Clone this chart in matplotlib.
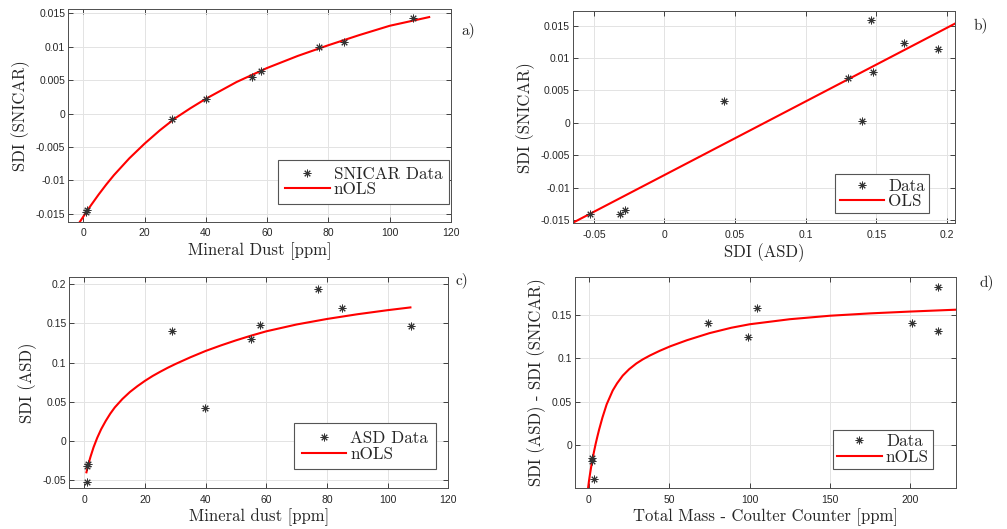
import numpy as np
import matplotlib
matplotlib.use("Agg")
import matplotlib.pyplot as plt

# a) SNICAR SDI vs mineral dust
a_x = [0.9, 1.3, 29, 40, 55, 58, 77, 85, 107.7]
a_y = [-0.0147, -0.0144, -0.0008, 0.0022, 0.0054, 0.0064, 0.0099, 0.0107, 0.01425]
a_fit_x = [-1.6, 0, 1, 2.5, 5, 7.5, 10, 15, 20, 25, 30, 35, 40, 50, 60, 70, 80, 90, 100, 112.9]
a_fit_y = [-0.0165, -0.0154, -0.0147, -0.0137, -0.0121, -0.0106, -0.0092, -0.0067, -0.0045, -0.0025,
           -0.0007, 0.0008, 0.0022, 0.0047, 0.0068, 0.0086, 0.0102, 0.0117, 0.0131, 0.0144]

# b) SNICAR SDI vs ASD SDI
b_x = [-0.0526, -0.0318, -0.0283, 0.0420, 0.1302, 0.1396, 0.1460, 0.1476, 0.1693, 0.1934]
b_y = [-0.0140, -0.0140, -0.0135, 0.0034, 0.0069, 0.0003, 0.0158, 0.0078, 0.0123, 0.0114]
b_fit_x = [-0.07, 0.21]
b_fit_y = [-0.0160, 0.0158]

# c) ASD SDI vs mineral dust
c_x = [0.7, 0.9, 1.2, 28.9, 39.7, 54.8, 57.9, 77.0, 84.9, 107.7]
c_y = [-0.0525, -0.0317, -0.0292, 0.1397, 0.0417, 0.130, 0.1478, 0.1932, 0.169, 0.1465]
c_fit_x = [0.66, 1.3, 2, 3, 4.2, 5.5, 7, 8.5, 10, 12.5, 15, 17.5, 20, 22.5, 25, 27.5, 30, 35, 40, 45,
           50, 55, 60, 70, 80, 90, 100, 107.5]
c_fit_y = [-0.0398, -0.0295, -0.0200, -0.0080, 0.0040, 0.0150, 0.0255, 0.0348, 0.0428, 0.0535, 0.0625,
           0.0700, 0.0768, 0.0829, 0.0883, 0.0934, 0.0981, 0.1068, 0.1148, 0.1218, 0.1283, 0.1343,
           0.1398, 0.1485, 0.1555, 0.1615, 0.1667, 0.1702]

# d) difference vs total mass
d_x = [1.8, 2.0, 3.0, 74.3, 98.8, 104.4, 201.2, 217.0, 217.4]
d_y = [-0.0145, -0.0175, -0.0385, 0.140, 0.1244, 0.1577, 0.140, 0.1309, 0.1821]
d_fit_x = [-0.6, 0, 0.6, 1.3, 2.1, 3.1, 4.2, 5.2, 6.3, 8.4, 11, 14.8, 17.5, 21, 25, 29.5, 33.5, 38,
           44, 50.6, 61, 75, 88.6, 100, 125, 150, 175, 200, 228]
d_fit_y = [-0.0497, -0.0410, -0.0335, -0.0255, -0.0170, -0.0075, 0.0020, 0.0098, 0.0180, 0.0320,
           0.0470, 0.0630, 0.0712, 0.0800, 0.0874, 0.0940, 0.0987, 0.1032, 0.1085, 0.1137, 0.1207,
           0.1288, 0.1350, 0.1390, 0.1448, 0.1488, 0.1515, 0.1536, 0.1557]

tick_color = "#262626"
serif = "cmr10"
star = (8, 2, 0)

fig = plt.figure(figsize=(10.07, 5.29), dpi=100)


def panel(rect, x, y, fx, fy, data_label, fit_label, xlabel, ylabel,
          xlim, ylim, xticks, xticklabels, yticks, yticklabels, tag, tag_xy, leg_anchor, leg_pad):
    ax = fig.add_axes(rect)
    ax.plot(x, y, linestyle="none", marker=star, markersize=5.5, markeredgewidth=0.7,
            color="#333333", label=data_label, zorder=3)
    ax.plot(fx, fy, color="#ff0000", lw=1.5, label=fit_label, zorder=2)
    ax.set_xlim(xlim)
    ax.set_ylim(ylim)
    ax.set_xticks(xticks)
    ax.set_xticklabels(xticklabels)
    ax.set_yticks(yticks)
    ax.set_yticklabels(yticklabels)
    ax.grid(True, color="#e3e3e3", lw=0.7)
    ax.set_axisbelow(True)
    ax.tick_params(direction="in", length=3.5, width=0.6, colors=tick_color,
                   top=True, right=True, labelsize=7.5)
    ax.tick_params(axis="x", pad=4.5)
    ax.tick_params(axis="y", pad=2)
    for lab in ax.get_xticklabels() + ax.get_yticklabels():
        lab.set_fontfamily("Liberation Sans")
    for sp in ax.spines.values():
        sp.set_color("#4d4d4d")
        sp.set_linewidth(0.7)
    ax.set_xlabel(xlabel, fontfamily=serif, fontsize=12, color=tick_color, labelpad=3)
    ax.set_ylabel(ylabel, fontfamily=serif, fontsize=12, color=tick_color, labelpad=4)
    leg = ax.legend(loc="lower right", bbox_to_anchor=leg_anchor, frameon=True, fancybox=False,
                    prop={"family": serif, "size": 12.3}, handlelength=2.6, handletextpad=0.25,
                    labelspacing=0.0, borderpad=leg_pad, borderaxespad=0, framealpha=1)
    leg.get_frame().set_edgecolor("#555555")
    leg.get_frame().set_linewidth(0.8)
    for t in leg.get_texts():
        t.set_color(tick_color)
    fig.text(tag_xy[0] / 1007, 1 - tag_xy[1] / 529, tag, fontfamily=serif, fontsize=11,
             color=tick_color, va="center", ha="left")
    return ax


sdi_ticks = [-0.015, -0.01, -0.005, 0, 0.005, 0.01, 0.015]
sdi_labels = ["-0.015", "-0.01", "-0.005", "0", "0.005", "0.01", "0.015"]

panel([0.0675, 0.5803, 0.3803, 0.4026], a_x, a_y, a_fit_x, a_fit_y, "SNICAR Data", "nOLS",
      "Mineral Dust [ppm]", "SDI (SNICAR)", (-5, 120), (-0.0162, 0.0156),
      [0, 20, 40, 60, 80, 100, 120], ["0", "20", "40", "60", "80", "100", "120"],
      sdi_ticks, sdi_labels, "a)", (461, 30), (0.9956, 0.0845), 0.4)

panel([0.5687, 0.5779, 0.3796, 0.4013], b_x, b_y, b_fit_x, b_fit_y, "Data", "OLS",
      "SDI (ASD)", "SDI (SNICAR)", (-0.065, 0.2057), (-0.0155, 0.01726),
      [-0.05, 0, 0.05, 0.1, 0.15, 0.2], ["-0.05", "0", "0.05", "0.1", "0.15", "0.2"],
      sdi_ticks, sdi_labels, "b)", (974, 25), (0.9328, 0.047), 0.25)

panel([0.0688, 0.0769, 0.3764, 0.4], c_x, c_y, c_fit_x, c_fit_y, "ASD Data", "nOLS",
      "Mineral dust [ppm]", "SDI (ASD)", (-5, 120), (-0.0602, 0.2093),
      [0, 20, 40, 60, 80, 100, 120], ["0", "20", "40", "60", "80", "100", "120"],
      [-0.05, 0, 0.05, 0.1, 0.15, 0.2], ["-0.05", "0", "0.05", "0.1", "0.15", "0.2"],
      "c)", (455, 280), (0.9675, 0.0898), 0.45)

panel([0.571, 0.0769, 0.378, 0.4], d_x, d_y, d_fit_x, d_fit_y, "Data", "nOLS",
      "Total Mass - Coulter Counter [ppm]", "SDI (ASD) - SDI (SNICAR)", (-8.7, 228.2), (-0.0494, 0.1936),
      [0, 50, 100, 150, 200], ["0", "50", "100", "150", "200"],
      [0, 0.05, 0.1, 0.15], ["0", "0.05", "0.1", "0.15"],
      "d)", (979, 282), (0.941, 0.0912), 0.25)

fig.savefig("out.png", dpi=100)
